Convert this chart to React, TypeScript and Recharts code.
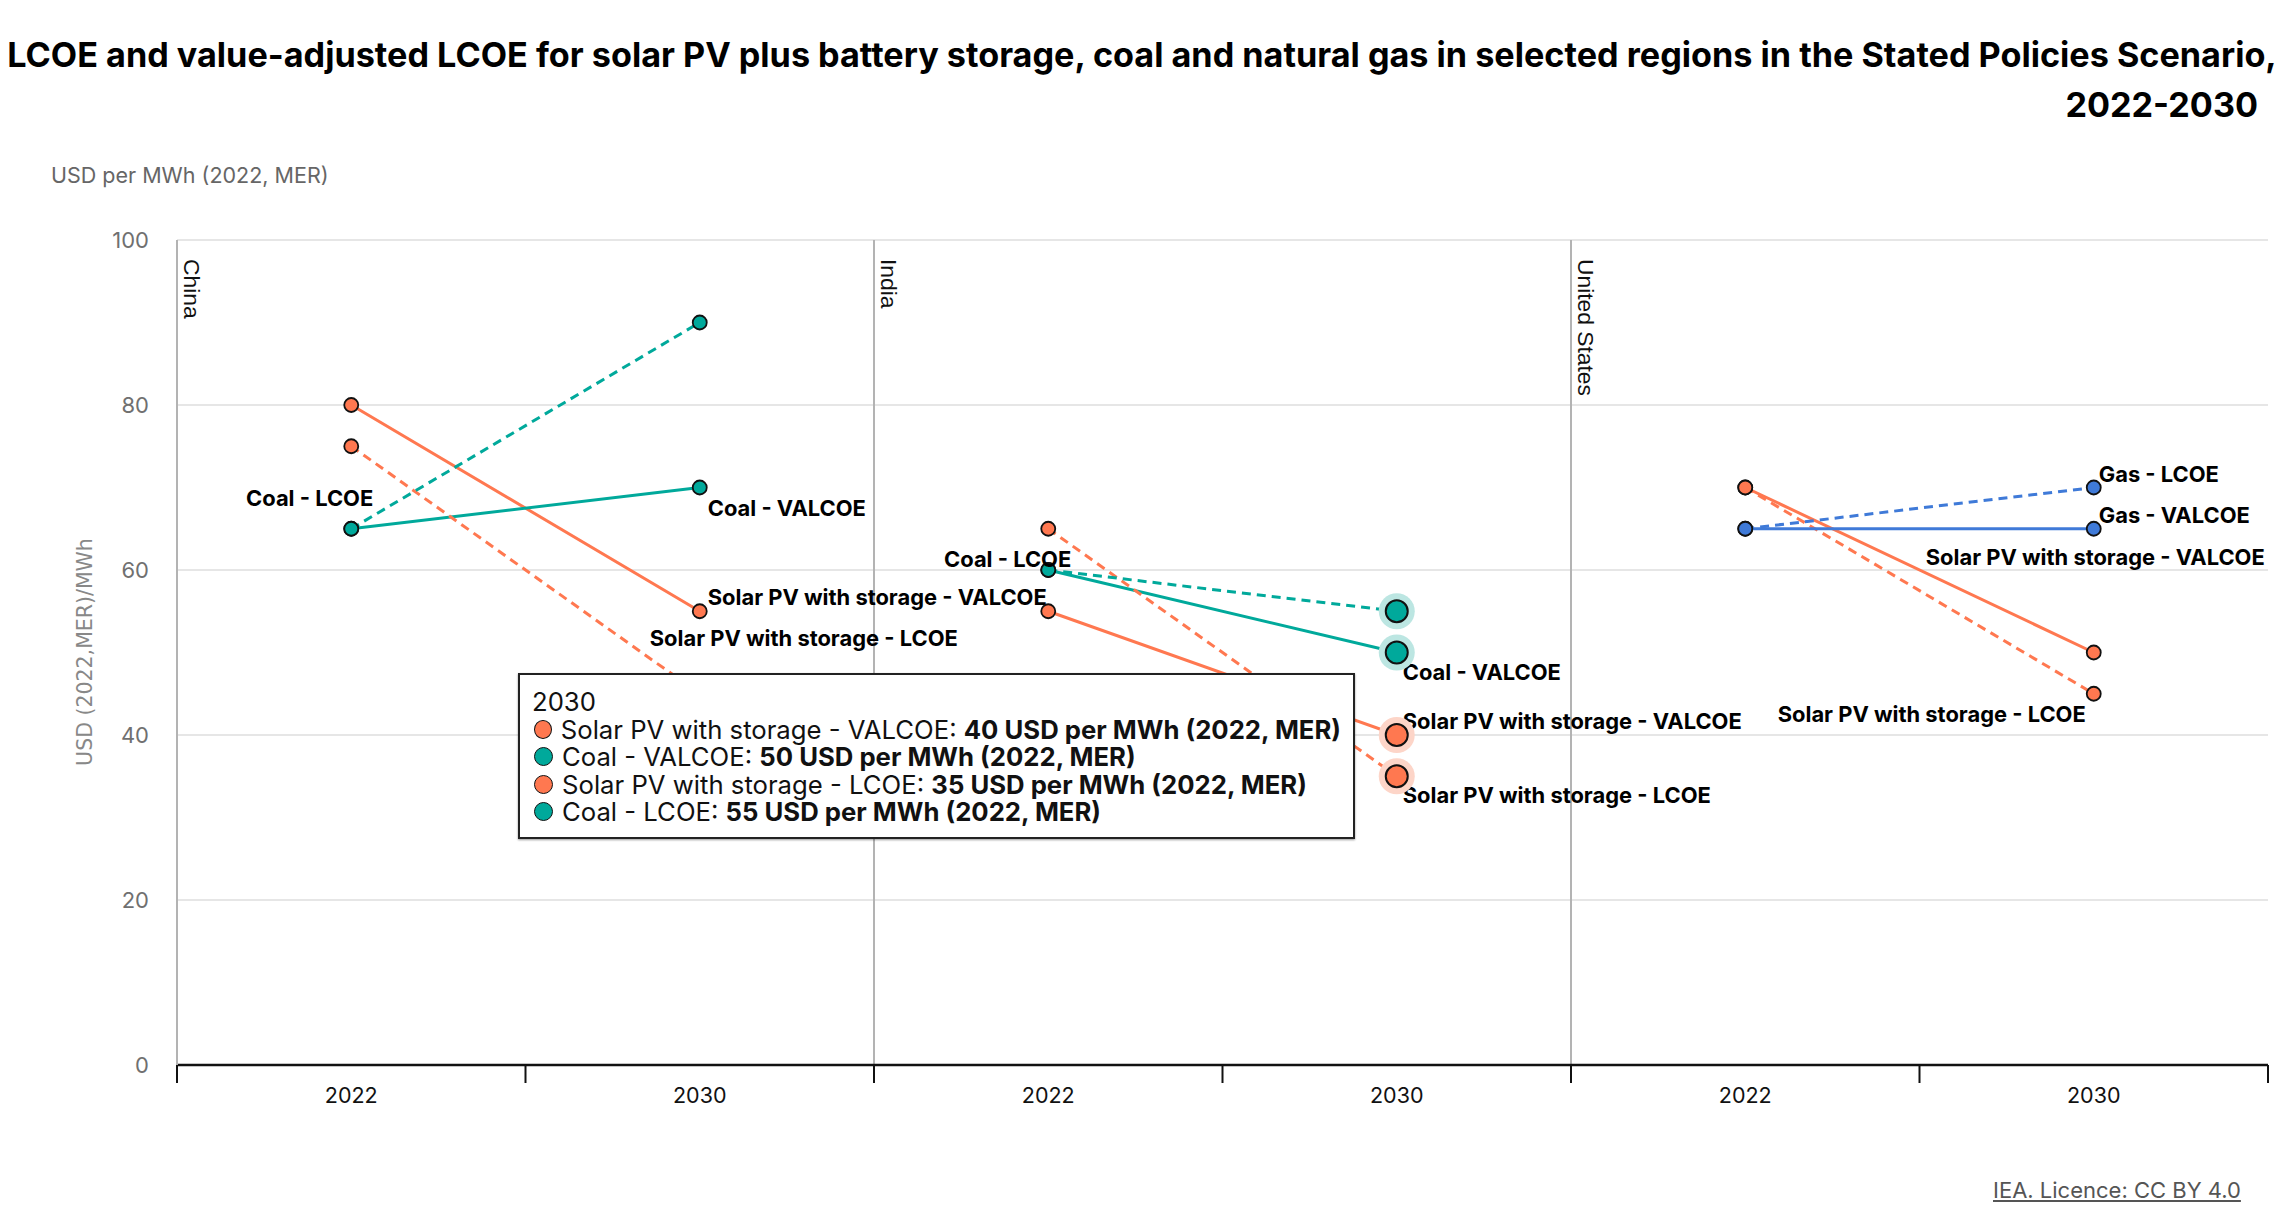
import React from 'react';
import { LineChart, Line, XAxis, YAxis, CartesianGrid, Tooltip, ReferenceLine } from 'recharts';

const regions = ['China', 'India', 'United States'];
const years = ['2022', '2030'];
const fossilFuels = ['Coal', 'Coal', 'Gas'];

// values per region, [2022, 2030], USD per MWh (2022, MER)
const solarValcoe = [[80, 55], [55, 40], [70, 50]];
const solarLcoe = [[75, 45], [65, 35], [70, 45]];
const fossilValcoe = [[65, 70], [60, 50], [65, 65]];
const fossilLcoe = [[65, 90], [60, 55], [65, 70]];

const yTicks = [0, 20, 40, 60, 80, 100];
const xTickLabels = regions.flatMap(() => years);

const seriesNames: Record<string, string> = {
  solarVal: 'Solar PV with storage - VALCOE',
  solarLcoe: 'Solar PV with storage - LCOE',
  coalVal: 'Coal - VALCOE',
  coalLcoe: 'Coal - LCOE',
  gasVal: 'Gas - VALCOE',
  gasLcoe: 'Gas - LCOE',
};
const seriesKeys = Object.keys(seriesNames);

const ORANGE = '#ff7850';
const TEAL = '#00a99b';
const BLUE = '#3f7ad8';
const FONT = 'Inter, Roboto, sans-serif';

// one row per region/year, with an empty row between regions so lines break
const rows: any[] = [];
regions.forEach((region, r) => {
  const fuel = fossilFuels[r].toLowerCase();
  years.forEach((year, i) => {
    const row: any = { x: r * 2 + i, region, year };
    seriesKeys.forEach((k) => (row[k] = null));
    row.solarVal = solarValcoe[r][i];
    row.solarLcoe = solarLcoe[r][i];
    row[fuel + 'Val'] = fossilValcoe[r][i];
    row[fuel + 'Lcoe'] = fossilLcoe[r][i];
    rows.push(row);
  });
  if (r < regions.length - 1) {
    const gap: any = { x: r * 2 + 1.5 };
    seriesKeys.forEach((k) => (gap[k] = null));
    rows.push(gap);
  }
});

const activeRow = rows.findIndex((d) => d.region === 'India' && d.year === '2030');
const boundaryTicks = xTickLabels.map((_, i) => i - 0.5).concat([xTickLabels.length - 0.5]);
const centerTicks = xTickLabels.map((_, i) => i);

// data label placement, keyed by series and row index
const labelSpecs: Record<string, { dx: number; dy: number; anchor: 'start' | 'end' }> = {
  'coalLcoe-0': { dx: 22, dy: -31, anchor: 'end' },
  'coalVal-1': { dx: 8, dy: 20, anchor: 'start' },
  'solarVal-1': { dx: 8, dy: -14, anchor: 'start' },
  'solarLcoe-1': { dx: -50, dy: -56, anchor: 'start' },
  'coalLcoe-3': { dx: 23, dy: -11, anchor: 'end' },
  'coalVal-4': { dx: 6, dy: 19, anchor: 'start' },
  'solarVal-4': { dx: 6, dy: -14, anchor: 'start' },
  'solarLcoe-4': { dx: 6, dy: 19, anchor: 'start' },
  'gasLcoe-7': { dx: 5, dy: -14, anchor: 'start' },
  'gasVal-7': { dx: 5, dy: -14, anchor: 'start' },
  'solarVal-7': { dx: 171, dy: -96, anchor: 'end' },
  'solarLcoe-7': { dx: -8, dy: 20, anchor: 'end' },
};

const makeDot = (key: string, color: string) => (props: any) => {
  const { cx, cy, index } = props;
  if (typeof cy !== 'number' || isNaN(cy) || props.value == null) return <g key={`${key}-${index}`} />;
  const spec = labelSpecs[`${key}-${index}`];
  return (
    <g key={`${key}-${index}`}>
      <circle cx={cx} cy={cy} r={7} fill={color} stroke="#111" strokeWidth={1.8} />
      {spec && (
        <text
          x={cx + spec.dx}
          y={cy + spec.dy}
          textAnchor={spec.anchor}
          dominantBaseline="central"
          fontFamily={FONT}
          fontWeight={700}
          fontSize={21.9}
          fill="#000"
        >
          {seriesNames[key]}
        </text>
      )}
    </g>
  );
};

const makeActiveDot = (color: string, halo: string) => (props: any) => {
  const { cx, cy } = props;
  if (typeof cy !== 'number') return <g />;
  return (
    <g>
      <circle cx={cx} cy={cy} r={18} fill={halo} />
      <circle cx={cx} cy={cy} r={11} fill={color} stroke="#111" strokeWidth={2} />
    </g>
  );
};

const RegionLabel = (props: any) => {
  const vb = props.viewBox || {};
  const x = (vb.x ?? 0) + 7;
  const y = (vb.y ?? 0) + 19;
  return (
    <text
      x={x}
      y={y}
      transform={`rotate(90 ${x} ${y})`}
      fontFamily='"Liberation Sans", Arial, sans-serif'
      fontSize={22.8}
      fill="#111"
    >
      {props.text}
    </text>
  );
};

function TooltipBox({ active, payload, label }: any) {
  if (!active || !payload || !payload.length) return null;
  const items = payload.filter((p: any) => p.value != null);
  return (
    <div
      style={{
        width: 837,
        height: 166,
        boxSizing: 'border-box',
        border: '2px solid #222',
        boxShadow: '0 1px 2px rgba(0,0,0,0.4)',
        background: '#fff',
        padding: '13px 12px',
        fontFamily: FONT,
        fontSize: 25.7,
        lineHeight: '27.5px',
        color: '#111',
        whiteSpace: 'nowrap',
      }}
    >
      <div>{xTickLabels[label]}</div>
      {items.map((p: any) => (
        <div key={p.dataKey} style={{ display: 'flex', alignItems: 'center' }}>
          <span
            style={{
              display: 'inline-block',
              width: 19,
              height: 19,
              borderRadius: '50%',
              background: p.color,
              border: '1.5px solid #111',
              boxSizing: 'border-box',
              marginLeft: 2,
              marginRight: 9,
            }}
          />
          <span>
            {p.name}: <b>{p.value} USD per MWh (2022, MER)</b>
          </span>
        </div>
      ))}
    </div>
  );
}

const lines = [
  { key: 'solarVal', color: ORANGE, halo: '#fdd5c8', dashed: false },
  { key: 'coalVal', color: TEAL, halo: '#bce6e2', dashed: false },
  { key: 'solarLcoe', color: ORANGE, halo: '#fdd5c8', dashed: true },
  { key: 'coalLcoe', color: TEAL, halo: '#bce6e2', dashed: true },
  { key: 'gasVal', color: BLUE, halo: '#c8d8f4', dashed: false },
  { key: 'gasLcoe', color: BLUE, halo: '#c8d8f4', dashed: true },
];

export default function App() {
  return (
    <div
      style={{
        position: 'absolute',
        left: 0,
        top: 0,
        width: 2284,
        height: 1228,
        background: '#fff',
        fontFamily: FONT,
        overflow: 'hidden',
      }}
    >
      <div
        style={{
          position: 'absolute',
          left: 0,
          top: 34,
          width: 2284,
          textAlign: 'center',
          fontSize: 34.2,
          fontWeight: 700,
          lineHeight: '42px',
          whiteSpace: 'nowrap',
          color: '#000',
        }}
      >
        LCOE and value-adjusted LCOE for solar PV plus battery storage, coal and natural gas in selected regions in the Stated Policies Scenario,
      </div>
      <div
        style={{
          position: 'absolute',
          right: 26,
          top: 84,
          fontSize: 34.2,
          fontWeight: 700,
          lineHeight: '42px',
          color: '#000',
        }}
      >
        2022-2030
      </div>
      <div
        style={{
          position: 'absolute',
          left: 51,
          top: 161,
          fontSize: 21.5,
          lineHeight: '28px',
          color: '#666',
        }}
      >
        USD per MWh (2022, MER)
      </div>
      <div
        style={{
          position: 'absolute',
          left: 85,
          top: 652,
          transform: 'translate(-50%, -50%) rotate(-90deg)',
          fontFamily: '"DejaVu Sans", Verdana, sans-serif',
          fontSize: 20.5,
          color: '#888',
          whiteSpace: 'nowrap',
        }}
      >
        USD (2022,MER)/MWh
      </div>

      <div style={{ position: 'absolute', left: 0, top: 0 }}>
        <LineChart
          width={2284}
          height={1228}
          data={rows}
          margin={{ top: 240, right: 16, left: 0, bottom: 115 }}
        >
          <CartesianGrid vertical={false} stroke="#e6e6e6" strokeWidth={2} />
          <XAxis
            dataKey="x"
            type="number"
            domain={[-0.5, 5.5]}
            ticks={boundaryTicks}
            interval={0}
            allowDataOverflow
            tickFormatter={() => ''}
            tickSize={18}
            height={18}
            axisLine={{ stroke: '#111', strokeWidth: 2.5 }}
            tickLine={{ stroke: '#111', strokeWidth: 2 }}
          />
          <XAxis
            xAxisId="labels"
            dataKey="x"
            type="number"
            domain={[-0.5, 5.5]}
            ticks={centerTicks}
            interval={0}
            allowDataOverflow
            tickFormatter={(v: number) => xTickLabels[v]}
            axisLine={false}
            tickLine={false}
            tickSize={0}
            tickMargin={5}
            height={30}
            tick={{ fill: '#111', fontSize: 21.5, fontFamily: FONT }}
          />
          <YAxis
            domain={[0, 100]}
            ticks={yTicks}
            width={177}
            axisLine={{ stroke: '#b3b3b3', strokeWidth: 2 }}
            tickLine={false}
            tickSize={6}
            tickMargin={22}
            tick={{ fill: '#707070', fontSize: 22, fontFamily: FONT }}
          />
          <ReferenceLine x={-0.5} stroke="#b3b3b3" strokeWidth={2} label={<RegionLabel text={regions[0]} />} />
          <ReferenceLine x={1.5} stroke="#b3b3b3" strokeWidth={2} label={<RegionLabel text={regions[1]} />} />
          <ReferenceLine x={3.5} stroke="#b3b3b3" strokeWidth={2} label={<RegionLabel text={regions[2]} />} />
          <Tooltip
            content={<TooltipBox />}
            defaultIndex={activeRow}
            position={{ x: 518, y: 673 }}
            cursor={false}
            isAnimationActive={false}
            allowEscapeViewBox={{ x: true, y: true }}
            wrapperStyle={{ outline: 'none', zIndex: 10 }}
          />
          {lines.map((l) => (
            <Line
              key={l.key}
              dataKey={l.key}
              name={seriesNames[l.key]}
              type="linear"
              stroke={l.color}
              strokeWidth={3}
              strokeDasharray={l.dashed ? '9 6' : undefined}
              dot={makeDot(l.key, l.color)}
              activeDot={makeActiveDot(l.color, l.halo)}
              connectNulls={false}
              isAnimationActive={false}
            />
          ))}
        </LineChart>
      </div>

      <div
        style={{
          position: 'absolute',
          left: 1993,
          top: 1176,
          fontSize: 22,
          lineHeight: '28px',
          color: '#555',
          textDecoration: 'underline',
        }}
      >
        IEA. Licence: CC BY 4.0
      </div>
    </div>
  );
}
